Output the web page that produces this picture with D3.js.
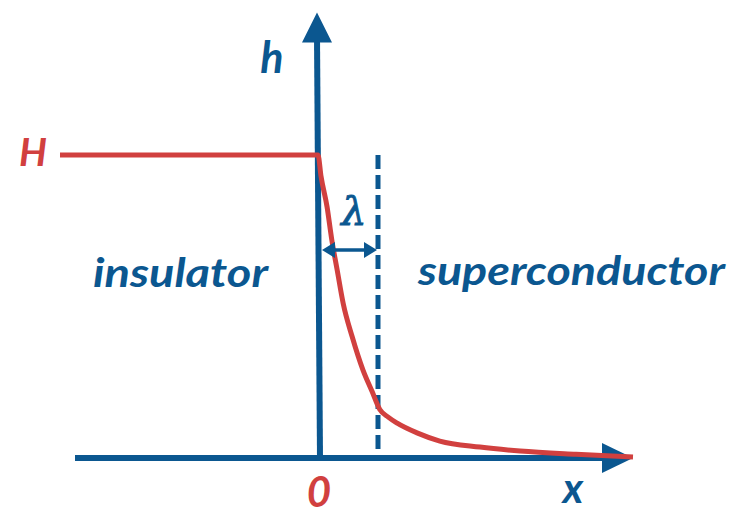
<!DOCTYPE html>
<html>
<head>
  <meta charset="utf-8">
  <title>Penetration depth</title>
  <script src="https://cdn.jsdelivr.net/npm/d3@7"></script>
  <style>
    body { margin: 0; background: #fff; }
    text { font-family: Lato, "Open Sans", sans-serif; font-weight: bold; font-style: italic; }
  </style>
</head>
<body>
  <svg width="745" height="518" id="mainsvg"></svg>
  <script>
    // field profile h(x): x in units of lambda, h in units of H
    const curveX = [-4.3, 0, 0.05, 0.15, 0.23, 0.32, 0.42, 0.57, 0.75, 0.9, 1.03, 1.17, 1.32, 1.65, 2.03, 2.7, 3.37, 4.3, 5.25];
    const curveH = [1, 1, 0.93, 0.83, 0.72, 0.62, 0.51, 0.40, 0.29, 0.22, 0.16, 0.135, 0.115, 0.083, 0.056, 0.036, 0.023, 0.012, 0.003];
    const lambda = 1;
    const axisX = [-4.05, 5.25];
    const axisH = [0, 1.47];
    const regionLabels = ['insulator', 'superconductor'];

    const blue = '#0b5790';
    const red = '#d1403f';

    const svg = d3.select('#mainsvg');
    const xScale = d3.scaleLinear().domain([0, 1]).range([318, 378]);
    const yScale = d3.scaleLinear().domain([0, 1]).range([458, 155]);
    const g = svg.append('g');

    // x axis
    g.append('line')
      .attr('x1', xScale(axisX[0])).attr('x2', xScale(axisX[1]) - 20)
      .attr('y1', yScale(0)).attr('y2', yScale(0))
      .attr('stroke', blue).attr('stroke-width', 6);
    const xt = xScale(axisX[1]);
    g.append('path')
      .attr('d', `M${xt},${yScale(0)} L${xt - 31},${yScale(0) - 15} L${xt - 31},${yScale(0) + 15} Z`)
      .attr('fill', blue);

    // y axis
    const yt = yScale(axisH[1]);
    g.append('line')
      .attr('x1', xScale(0) + 2).attr('x2', xScale(0) - 1)
      .attr('y1', yScale(0)).attr('y2', yt + 25)
      .attr('stroke', blue).attr('stroke-width', 6);
    g.append('path')
      .attr('d', `M${xScale(0) - 1},${yt} L${xScale(0) - 16},${yt + 30} L${xScale(0) + 14},${yt + 30} Z`)
      .attr('fill', blue);

    // dashed lambda line
    g.append('line')
      .attr('x1', xScale(lambda)).attr('x2', xScale(lambda))
      .attr('y1', yScale(1)).attr('y2', yScale(0) - 3)
      .attr('stroke', blue).attr('stroke-width', 5)
      .attr('stroke-dasharray', '14 6');

    // field curve
    const pts = curveX.map((x, i) => [x, curveH[i]]);
    const line = d3.line()
      .x(d => xScale(d[0]))
      .y(d => yScale(d[1]))
      .curve(d3.curveMonotoneX);
    g.append('path')
      .attr('d', line(pts))
      .attr('fill', 'none')
      .attr('stroke', red).attr('stroke-width', 5)
      .attr('stroke-linejoin', 'round');

    // lambda double arrow
    const ay = 250;
    const ax0 = xScale(0) + 4, ax1 = xScale(lambda) - 1;
    g.append('line')
      .attr('x1', ax0 + 8).attr('x2', ax1 - 8)
      .attr('y1', ay).attr('y2', ay)
      .attr('stroke', blue).attr('stroke-width', 3.5);
    g.append('path')
      .attr('d', `M${ax0},${ay} L${ax0 + 13},${ay - 8} L${ax0 + 13},${ay + 8} Z`)
      .attr('fill', blue);
    g.append('path')
      .attr('d', `M${ax1},${ay} L${ax1 - 13},${ay - 8} L${ax1 - 13},${ay + 8} Z`)
      .attr('fill', blue);
    g.append('text')
      .attr('x', 354).attr('y', 225)
      .attr('text-anchor', 'middle')
      .style('font-family', '"DejaVu Serif", serif')
      .style('font-weight', 'normal')
      .attr('font-size', 40)
      .attr('fill', blue)
      .attr('stroke', blue).attr('stroke-width', 0.9)
      .text('λ');

    // labels
    g.append('text').attr('x', 272).attr('y', 73).attr('text-anchor', 'middle')
      .attr('font-size', 43).attr('fill', blue).text('h');
    g.append('text').attr('x', 33).attr('y', 166).attr('text-anchor', 'middle')
      .attr('font-size', 39).attr('fill', red).text('H');
    g.append('text').attr('x', 319).attr('y', 507).attr('text-anchor', 'middle')
      .attr('font-size', 42).attr('fill', red).text('0');
    g.append('text').attr('x', 573).attr('y', 503).attr('text-anchor', 'middle')
      .attr('font-size', 42).attr('fill', blue).text('x');
    g.append('text').attr('x', 93).attr('y', 287)
      .attr('font-size', 40).attr('fill', blue)
      .attr('textLength', 175).attr('lengthAdjust', 'spacingAndGlyphs')
      .text(regionLabels[0]);
    g.append('text').attr('x', 418).attr('y', 285)
      .attr('font-size', 40).attr('fill', blue)
      .attr('textLength', 307).attr('lengthAdjust', 'spacingAndGlyphs')
      .text(regionLabels[1]);
  </script>
</body>
</html>
